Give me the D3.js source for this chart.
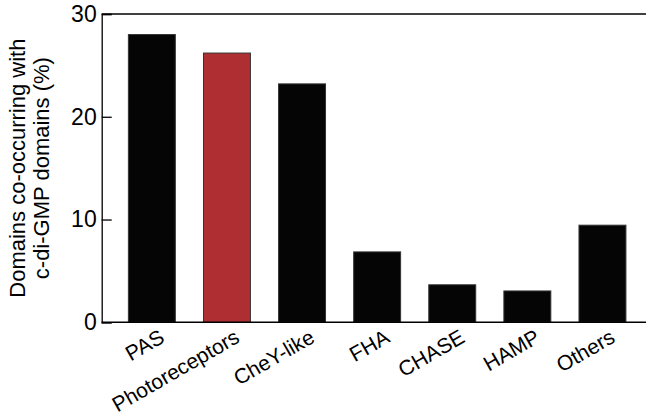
<!DOCTYPE html>
<html>
<head>
<meta charset="utf-8">
<script src="https://cdn.jsdelivr.net/npm/d3@7"></script>
<style>
  body { margin: 0; background: #fff; }
  svg { display: block; }
  text { font-family: "Liberation Sans", Arial, sans-serif; fill: #000; }
</style>
</head>
<body>
<svg id="chart" width="646" height="419"></svg>
<script>
const categories = ["PAS", "Photoreceptors", "CheY-like", "FHA", "CHASE", "HAMP", "Others"];
const values = [28.0, 26.2, 23.2, 6.85, 3.65, 3.05, 9.45];
const highlight = ["Photoreceptors"];
const yTicks = [0, 10, 20, 30];
const yTitle = ["Domains co-occurring with", "c-di-GMP domains (%)"];

(function () {
const svg = d3.select("#chart");
const mLeft = 101.7, mRight = 660, mTop = 14, mBottom = 322.3;

const x = d3.scaleBand()
  .domain(categories)
  .range([114.3, 640])
  .paddingInner(0.375)
  .paddingOuter(0.1875);

const y = d3.scaleLinear().domain([0, 30]).range([mBottom, mTop]);

// bars
svg.append("g").selectAll("rect")
  .data(categories)
  .enter().append("rect")
  .attr("x", d => x(d))
  .attr("y", (d, i) => y(values[i]))
  .attr("width", x.bandwidth())
  .attr("height", (d, i) => y(0) - y(values[i]))
  .attr("fill", d => highlight.includes(d) ? "#ae2e31" : "#050505")
  .attr("stroke", "#333")
  .attr("stroke-width", 1);

// top frame line
svg.append("line").attr("x1", mLeft).attr("x2", mRight).attr("y1", mTop).attr("y2", mTop)
  .attr("stroke", "#000").attr("stroke-width", 1.5);

// y axis with inward ticks
const yAxis = d3.axisLeft(y).tickValues(yTicks).tickSize(-10).tickPadding(5);
const gy = svg.append("g").attr("transform", `translate(${mLeft},0)`).call(yAxis);
gy.select(".domain").attr("stroke", "#000").attr("stroke-width", 1.3);
gy.selectAll(".tick line").attr("stroke", "#000").attr("stroke-width", 1.3);
gy.selectAll(".tick text").style("font-size", "23px")
  .attr("font-family", "Liberation Sans, Arial, sans-serif").attr("fill", "#000");

// x axis
const xAxis = d3.axisBottom(x).tickSize(0).tickPadding(0);
const gx = svg.append("g").attr("transform", `translate(0,${mBottom})`).call(xAxis);
gx.select(".domain").remove();
svg.append("line").attr("x1", mLeft).attr("x2", mRight).attr("y1", mBottom).attr("y2", mBottom)
  .attr("stroke", "#000").attr("stroke-width", 1.5);
gx.selectAll(".tick text")
  .style("font-size", "21px")
  .attr("font-family", "Liberation Sans, Arial, sans-serif")
  .attr("fill", "#000")
  .attr("text-anchor", "end")
  .attr("dy", null)
  .attr("y", 0)
  .attr("transform", "translate(14,19) rotate(-30)");

// y title
const cy = (mTop + mBottom) / 2;
const title = svg.append("text")
  .attr("transform", `translate(25,${cy}) rotate(-90)`)
  .attr("text-anchor", "middle")
  .style("font-size", "22px");
title.selectAll("tspan").data(yTitle).enter().append("tspan")
  .attr("x", 0).attr("dy", (d, i) => i === 0 ? 0 : 23.5)
  .text(d => d);
})();
</script>
</body>
</html>
